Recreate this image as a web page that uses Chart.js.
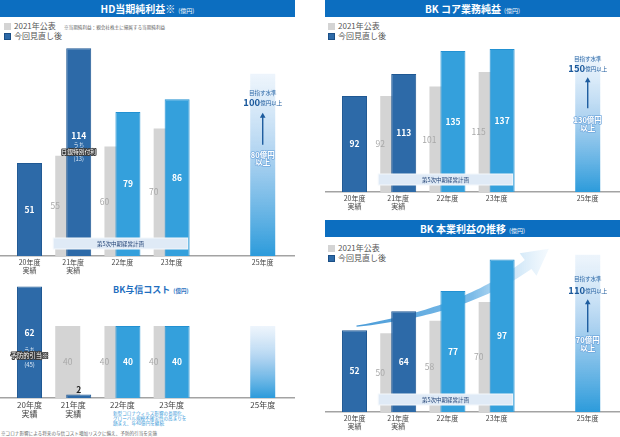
<!DOCTYPE html>
<html lang="ja">
<head>
<meta charset="utf-8">
<script src="https://cdn.jsdelivr.net/npm/chart.js@4.4.0/dist/chart.umd.min.js"></script>
<style>
body{margin:0;width:620px;height:437px;position:relative;background:#fff;font-family:'Noto Sans CJK JP',sans-serif;overflow:hidden}
canvas{position:absolute}
.hdr{position:absolute;height:17px;background:#0c6ec0;color:#fff;font-weight:bold;font-size:10px;line-height:17px;text-align:center}
.hdr small{font-size:6px;font-weight:normal;margin-left:3px}
.lg{position:absolute;font-size:8px;color:#555;line-height:10px;white-space:nowrap}
.lg i{display:inline-block;width:7px;height:7px;margin-right:3px;vertical-align:-0.5px;box-sizing:border-box}
.note{position:absolute;font-size:4.6px;color:#666;white-space:nowrap;line-height:5px}
.ttl{position:absolute;color:#1f6fbf;font-weight:bold;font-size:9px;white-space:nowrap}
.ttl small{font-size:5.5px;margin-left:3px}
</style>
</head>
<body>
<div class="hdr" style="left:0;top:0;width:295px">HD当期純利益※<small>(億円)</small></div>
<div class="hdr" style="left:325px;top:0;width:295px">BK コア業務純益<small>(億円)</small></div>
<div class="hdr" style="left:325px;top:220px;width:295px">BK 本業利益の推移<small>(億円)</small></div>
<div class="ttl" style="left:113px;top:283px">BK与信コスト<small>(億円)</small></div>
<div class="lg" id="lg1" style="left:4px;top:21px"></div>
<div class="lg" id="lg3" style="left:328px;top:21px"></div>
<div class="lg" id="lg4" style="left:328px;top:243px"></div>
<div class="note" style="left:64px;top:25px">※当期純利益：親会社株主に帰属する当期純利益</div>
<div class="note" style="left:113px;top:411px;color:#3a9ad9">新型コロナウィルス影響の長期化、<br>グローバル規模不確実性の高まりを<br>踏まえ、年40億円を継続</div>
<div class="note" style="left:1px;top:431px">※コロナ影響による将来の与信コスト増加リスクに備え、予防的引当を実施</div>

<canvas id="c1" width="295" height="259" style="left:0;top:19px"></canvas>
<canvas id="c2" width="295" height="139" style="left:0;top:281px"></canvas>
<canvas id="c3" width="295" height="189" style="left:325px;top:25px"></canvas>
<canvas id="c4" width="295" height="195" style="left:325px;top:239px"></canvas>

<script>
const categories = [['20年度', '実績'], ['21年度', '実績'], ['22年度'], ['23年度'], ['25年度']];
const seriesNames = ['2021年公表', '今回見直し後'];

const hdPublished = [null, 55, 60, 70, null];
const hdRevised = [51, 114, 79, 86, null];
const hdTarget = [null, null, null, null, 100];

const creditPublished = [null, 40, 40, 40, null];
const creditRevised = [62, 2, 40, 40, null];
const creditTarget = [null, null, null, null, 40];

const corePublished = [null, 92, 101, 115, null];
const coreRevised = [92, 113, 135, 137, null];
const coreTarget = [null, null, null, null, 130];

const opPublished = [null, 50, 58, 70, null];
const opRevised = [52, 64, 77, 97, null];
const opTarget = [null, null, null, null, 100];

const hdGoal = ['100', '80億円', '以上'];
const coreGoal = ['150', '130億円', '以上'];
const opGoal = ['110', '70億円', '以上'];

// layout
const FONT = "'Noto Sans CJK JP', 'Noto Sans', sans-serif";
const SLOT = [0, 1, 2, 3, 4.74];
const GRAY_SHIFT = 0.223;
const X_MIN = -0.6, X_MAX = 5.396;
const DARK = '#2d6aa8', LIGHT = '#34a0dc', GRAY = '#d4d4d4';

function pts(arr, shift) {
  return arr.map((v, i) => v == null ? null : { x: SLOT[i] - shift, y: v, i: i }).filter(Boolean);
}

function legend(id) {
  document.getElementById(id).innerHTML =
    `<div><i style="background:${GRAY}"></i>${seriesNames[0]}</div>` +
    `<div><i style="background:${DARK};border:1px solid #1b4f86"></i>${seriesNames[1]}</div>`;
}

function outlined(c, text, x, y, fill, stroke, lw) {
  c.lineJoin = 'round';
  c.strokeStyle = stroke; c.lineWidth = lw;
  c.strokeText(text, x, y);
  c.fillStyle = fill;
  c.fillText(text, x, y);
}

function drawSwoosh(chart) {
  const c = chart.ctx;
  const rev = chart.getDatasetMeta(0).data;
  const a = rev[0], b = rev[3];
  const p0 = { x: a.x + 2, y: a.y - 4 };
  const p3 = { x: b.x + 26, y: b.y + 5 };
  const p1 = { x: p0.x + 63, y: p0.y - 9 };
  const p2 = { x: p3.x - 48, y: p3.y + 36 };
  const at = t => {
    const u = 1 - t;
    return {
      x: u*u*u*p0.x + 3*u*u*t*p1.x + 3*u*t*t*p2.x + t*t*t*p3.x,
      y: u*u*u*p0.y + 3*u*u*t*p1.y + 3*u*t*t*p2.y + t*t*t*p3.y
    };
  };
  const up = [], lo = [];
  const N = 40;
  for (let k = 0; k <= N; k++) {
    const t = k / N;
    const p = at(t), q = at(Math.min(1, t + 0.01)), r = at(Math.max(0, t - 0.01));
    let dx = q.x - r.x, dy = q.y - r.y;
    const len = Math.hypot(dx, dy); dx /= len; dy /= len;
    const w = 0.6 + 5 * Math.pow(t, 0.9);
    up.push({ x: p.x + dy * w, y: p.y - dx * w });
    lo.push({ x: p.x - dy * w, y: p.y + dx * w });
  }
  let dx = p3.x - p2.x, dy = p3.y - p2.y;
  const len = Math.hypot(dx, dy); dx /= len; dy /= len;
  const tip = { x: p3.x + dx * 26, y: p3.y + dy * 26 };
  const g = c.createLinearGradient(p0.x, 0, tip.x, 0);
  g.addColorStop(0, 'rgba(55,145,212,0.9)');
  g.addColorStop(0.6, 'rgba(90,170,226,0.8)');
  g.addColorStop(1, 'rgba(225,240,252,0.35)');
  c.save();
  c.beginPath();
  c.moveTo(up[0].x, up[0].y);
  up.forEach(p => c.lineTo(p.x, p.y));
  c.lineTo(p3.x + dy * 14, p3.y - dx * 14);
  c.lineTo(tip.x, tip.y);
  c.lineTo(p3.x - dy * 14, p3.y + dx * 14);
  for (let k = lo.length - 1; k >= 0; k--) c.lineTo(lo[k].x, lo[k].y);
  c.closePath();
  c.fillStyle = g;
  c.fill();
  c.restore();
}

function decor(cfg) {
  return {
    id: 'decor',
    beforeDatasetsDraw(chart) { if (cfg.swoosh) drawSwoosh(chart); },
    afterDatasetsDraw(chart) {
      const c = chart.ctx;
      const rev = chart.getDatasetMeta(0).data;
      const tgt = chart.getDatasetMeta(1).data;
      const pub = chart.getDatasetMeta(2).data;
      const revData = chart.data.datasets[0].data;
      const pubData = chart.data.datasets[2].data;
      const base = chart.scales.y.getPixelForValue(0);
      c.save();
      c.textAlign = 'center';
      c.textBaseline = 'middle';

      if (cfg.banner) {
        const l = pub[0].x - pub[0].width / 2 - 2;
        const r = rev[3].x + rev[3].width / 2 - 2;
        c.fillStyle = '#dfeaf6';
        c.strokeStyle = '#f4f8fc';
        c.lineWidth = 1;
        c.fillRect(l, base - 18, r - l, 11);
        c.strokeRect(l, base - 18, r - l, 11);
        c.fillStyle = '#1e3f73';
        c.font = `5.5px ${FONT}`;
        c.fillText('第5次中期経営計画', (l + r) / 2, base - 12.5);
      }

      pub.forEach((el, j) => {
        const p = pubData[j];
        const r = cfg.revised[p.i];
        const x = r != null && r > p.y * 0.3 ? el.x - el.width / 2 : el.x;
        c.font = `${cfg.valSize}px ${FONT}`;
        c.fillStyle = '#a8a8a8';
        c.fillText(p.y, x, (el.y + el.base) / 2);
      });

      rev.forEach((el, j) => {
        const p = revData[j];
        const mid = (el.y + el.base) / 2;
        c.font = `bold ${cfg.valSize}px ${FONT}`;
        if (el.base - el.y < 14) {
          c.fillStyle = '#222';
          c.fillText(p.y, el.x, el.y - 5);
          return;
        }
        const note = cfg.notes && cfg.notes[p.i];
        c.fillStyle = '#fff';
        c.fillText(p.y, el.x, mid + (note ? note.dy : 0));
        if (note) {
          note.lines.forEach(ln => {
            c.font = `${ln.size}px ${FONT}`;
            if (ln.outline) outlined(c, ln.text, el.x, mid + ln.dy, '#fff', '#3a3a3a', 2);
            else { c.fillStyle = '#d8e6f4'; c.fillText(ln.text, el.x, mid + ln.dy); }
          });
        }
      });

      if (cfg.goal && tgt.length) {
        const t = tgt[0], o = cfg.goalOff, x = t.x, top = t.y;
        c.fillStyle = '#2a67a6';
        c.font = `5.5px ${FONT}`;
        c.fillText('目指す水準', x, top + o[0]);
        c.font = `bold 9.5px ${FONT}`;
        const w1 = c.measureText(cfg.goal[0]).width;
        c.font = `5.5px ${FONT}`;
        const w2 = c.measureText('億円以上').width;
        const sx = x - (w1 + w2) / 2;
        c.textAlign = 'left';
        c.fillStyle = '#1c5a9c';
        c.font = `bold 9.5px ${FONT}`;
        c.fillText(cfg.goal[0], sx, top + o[1]);
        c.font = `5.5px ${FONT}`;
        c.fillText('億円以上', sx + w1, top + o[1] + 0.5);
        c.textAlign = 'center';
        // arrow
        c.strokeStyle = '#1d5c9e';
        c.fillStyle = '#1d5c9e';
        c.lineWidth = 1.4;
        c.beginPath();
        c.moveTo(x, top + o[2]);
        c.lineTo(x, top + o[3] + 4);
        c.stroke();
        c.beginPath();
        c.moveTo(x, top + o[3]);
        c.lineTo(x - 2.8, top + o[3] + 5);
        c.lineTo(x + 2.8, top + o[3] + 5);
        c.closePath();
        c.fill();
        c.font = `bold 7.5px ${FONT}`;
        outlined(c, cfg.goal[1], x, top + o[4], '#fff', 'rgba(110,165,220,0.9)', 1.5);
        outlined(c, cfg.goal[2], x, top + o[5], '#fff', 'rgba(110,165,220,0.9)', 1.5);
      }
      c.restore();
    }
  };
}

function makeChart(id, cfg) {
  const tickX = cfg.published.map((v, i) => v != null ? SLOT[i] - GRAY_SHIFT / 2 : SLOT[i]);
  const revPts = pts(cfg.revised, 0);
  return new Chart(document.getElementById(id), {
    type: 'bar',
    data: {
      datasets: [
        {
          label: seriesNames[1], data: revPts, xAxisID: 'x',
          backgroundColor: revPts.map(p => p.i < 2 ? DARK : LIGHT),
          borderColor: revPts.map(p => p.i < 2 ? '#1f5893' : '#2291d2'),
          borderWidth: 1
        },
        {
          label: '目指す水準', data: pts(cfg.target, 0), xAxisID: 'x',
          backgroundColor: ctx => {
            const ch = ctx.chart;
            if (!ch.chartArea) return LIGHT;
            const y = ch.scales.y;
            const top = y.getPixelForValue(cfg.target[4]);
            const g = ch.ctx.createLinearGradient(0, top, 0, y.getPixelForValue(0));
            g.addColorStop(0, 'rgba(226,238,250,0.6)');
            g.addColorStop(0.45, 'rgba(160,203,238,0.85)');
            g.addColorStop(1, '#2c9bdb');
            return g;
          }
        },
        {
          label: seriesNames[0], data: pts(cfg.published, GRAY_SHIFT), xAxisID: 'xg',
          backgroundColor: GRAY
        }
      ]
    },
    options: {
      responsive: false,
      animation: false,
      datasets: { bar: { grouped: false, maxBarThickness: 25 } },
      plugins: { legend: { display: false }, tooltip: { enabled: false } },
      layout: { padding: 0 },
      scales: {
        x: {
          type: 'linear', min: X_MIN, max: X_MAX, display: false, offset: false,
          afterBuildTicks: a => { a.ticks = SLOT.map(v => ({ value: v })); }
        },
        xg: {
          type: 'linear', min: X_MIN, max: X_MAX, display: false, offset: false,
          afterBuildTicks: a => { a.ticks = SLOT.map(v => ({ value: v - GRAY_SHIFT })); }
        },
        xl: {
          type: 'linear', position: 'bottom', min: X_MIN, max: X_MAX, offset: false,
          grid: { display: false, drawTicks: false },
          border: { display: true, color: '#a3a3a3', width: 1.5 },
          afterBuildTicks: a => { a.ticks = tickX.map(v => ({ value: v })); },
          afterFit: a => { a.height = 22; a.paddingLeft = 0; a.paddingRight = 0; },
          ticks: {
            autoSkip: false, maxRotation: 0, padding: 2, color: '#444',
            font: { family: FONT, size: cfg.tickSize },
            callback: (v, i) => categories[i]
          }
        },
        y: { min: 0, max: cfg.yMax, display: false }
      }
    },
    plugins: [decor(cfg)]
  });
}

legend('lg1'); legend('lg3'); legend('lg4');

makeChart('c1', {
  published: hdPublished, revised: hdRevised, target: hdTarget, yMax: 130,
  tickSize: 7, valSize: 8.5, banner: true, goal: hdGoal, goalOff: [19, 29, 71, 39, 81, 88],
  notes: { 1: { dy: -16.5, lines: [
    { text: 'うち', dy: -7.5, size: 5.5 },
    { text: '日銀特別付利', dy: -0.5, size: 5.8, outline: true },
    { text: '(13)', dy: 6.5, size: 5.8 }
  ] } }
});

makeChart('c2', {
  published: creditPublished, revised: creditRevised, target: creditTarget, yMax: 65,
  tickSize: 8, valSize: 8.5, banner: false,
  notes: { 0: { dy: -9, lines: [
    { text: 'うち', dy: 8, size: 5.5 },
    { text: '予防的引当※', dy: 13, size: 6.3, outline: true },
    { text: '(45)', dy: 23, size: 6 }
  ] } }
});

makeChart('c3', {
  published: corePublished, revised: coreRevised, target: coreTarget, yMax: 160,
  tickSize: 7, valSize: 8.5, banner: true, goal: coreGoal, goalOff: [3, 12, 52, 21, 64, 72]
});

makeChart('c4', {
  published: opPublished, revised: opRevised, target: opTarget, yMax: 110,
  tickSize: 7, valSize: 8.5, banner: true, swoosh: true, goal: opGoal,
  goalOff: [24.5, 35.5, 77.5, 44.5, 85.5, 93.5]
});
</script>
</body>
</html>
